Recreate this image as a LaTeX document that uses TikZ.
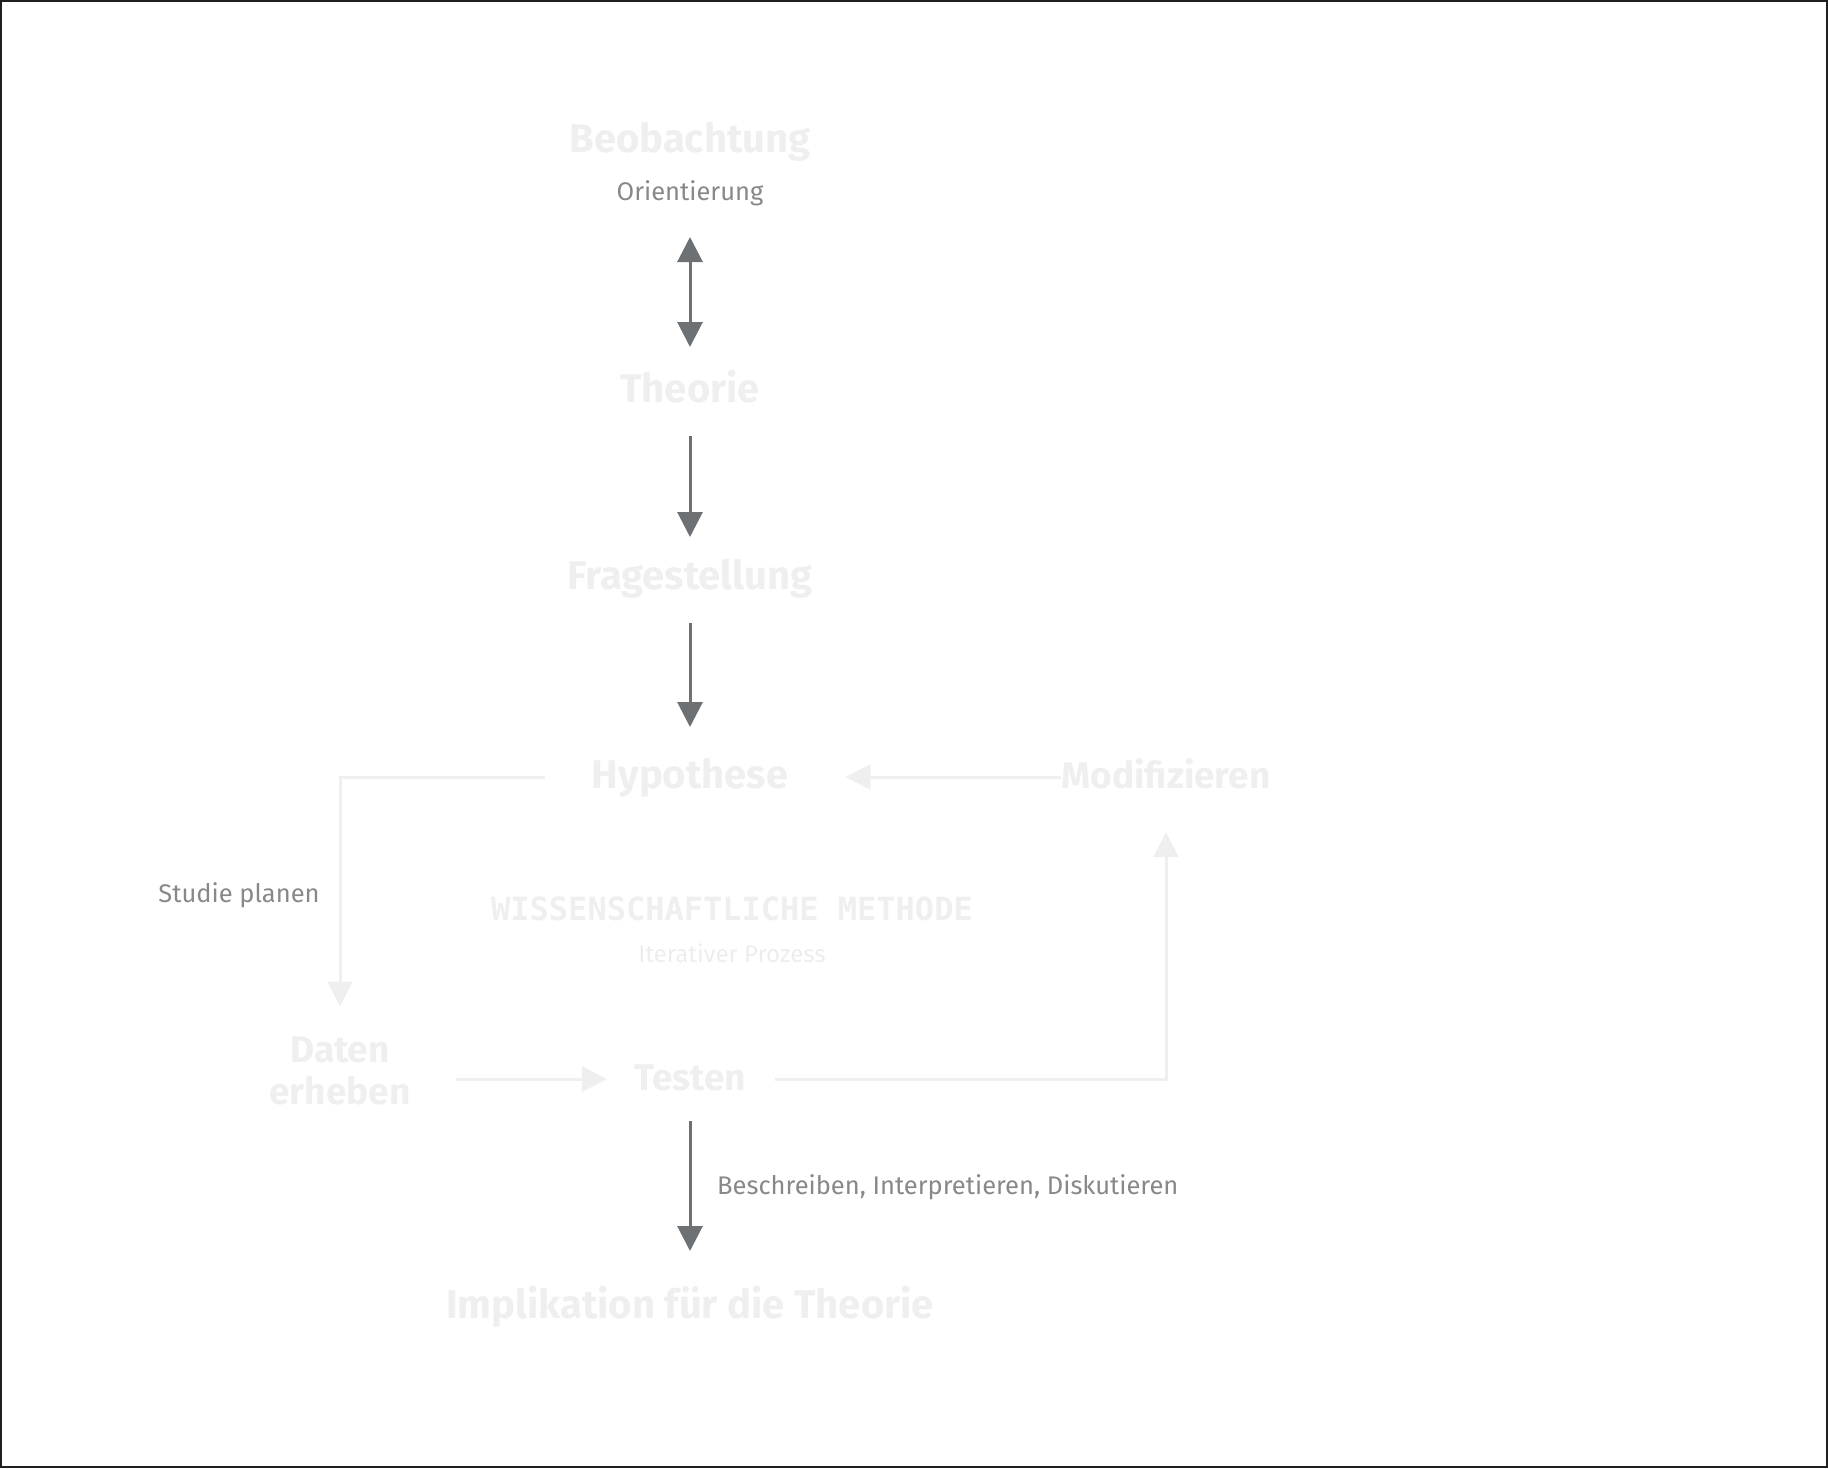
\documentclass[tikz,border=0pt]{standalone}
\usepackage{fontspec}
\setmainfont{Fira Sans}
\newfontfamily\monofont{DejaVu Sans Mono}
\usetikzlibrary{arrows.meta}
\definecolor{lightc}{HTML}{EFEFEF}
\definecolor{faintc}{HTML}{EDEDED}
\definecolor{labgray}{HTML}{888888}
\definecolor{darkarr}{HTML}{6E7174}
\definecolor{framec}{HTML}{1F1F1F}
\tikzset{
  big/.style={inner sep=0pt, font=\bfseries\fontsize{40}{41}\selectfont, text=lightc, text height=29pt, text depth=7pt},
  mid/.style={inner sep=0pt, font=\bfseries\fontsize{37}{42}\selectfont, text=lightc, text height=29pt, text depth=7pt},
  midml/.style={inner sep=0pt, font=\bfseries\fontsize{37}{42}\selectfont, text=lightc, align=center},
  small/.style={inner sep=0pt, font=\fontsize{25.5}{30}\selectfont, text=labgray},
  faint/.style={inner sep=0pt, font=\fontsize{24}{29}\selectfont, text=faintc},
  monotitle/.style={inner sep=0pt, font=\monofont\bfseries\fontsize{32}{36}\selectfont, text=lightc},
  darrow/.style={draw=darkarr, line width=3pt, -{Triangle[width=25pt,length=25pt]}},
  ddouble/.style={draw=darkarr, line width=3pt, {Triangle[width=25pt,length=25pt]}-{Triangle[width=25pt,length=25pt]}},
  larrow/.style={draw=lightc, line width=3pt, -{Triangle[width=25pt,length=25pt]}},
}
\begin{document}
\begin{tikzpicture}[x=1pt,y=-1pt]
\useasboundingbox (0,0) rectangle (1828,1468);
\draw[framec, line width=2pt] (1,1) rectangle (1827,1467);

\node[big, anchor=base] (beob) at (690,152) {Beobachtung};
\node[small, anchor=base] (orient) at (690,200) {Orientierung};
\node[big, anchor=base] (theo) at (690,402) {Theorie};
\node[big, anchor=base] (frag) at (690,589) {Fragestellung};
\node[big, anchor=base] (hyp) at (690,788) {Hypothese};
\node[mid, anchor=base] (mod) at (1166,788) {Modifizieren};
\node[small, anchor=base] (studie) at (239,902) {Studie planen};
\node[monotitle, anchor=base] (title) at (732,920) {WISSENSCHAFTLICHE METHODE};
\node[faint, anchor=base] (iter) at (732,962) {Iterativer Prozess};
\node[midml, anchor=north] (daten) at (340,1036.5) {Daten\\erheben};
\node[mid, anchor=base] (test) at (690,1090) {Testen};
\node[small, anchor=base west] (besch) at (717,1194) {Beschreiben, Interpretieren, Diskutieren};
\node[big, anchor=base] (impl) at (690,1318) {Implikation für die Theorie};

\draw[ddouble, shorten <=85pt, shorten >=55pt] (beob.base) -- (theo.base);
\draw[darrow, shorten <=34pt, shorten >=52pt] (theo.base) -- (frag.base);
\draw[darrow, shorten <=34pt, shorten >=61pt] (frag.base) -- (hyp.base);
\draw[larrow, shorten >=57pt] (mod.west) -- (hyp.east);
\draw[larrow, shorten <=47pt, shorten >=30pt] (hyp.west) -| (daten.north);
\draw[larrow, shorten <=45pt, shorten >=27pt] (daten.east |- test.west) -- (test.west);
\draw[larrow, shorten <=29pt, shorten >=37pt] (test.east) -| (mod.south);
\draw[darrow, shorten <=31pt, shorten >=67pt] (test.base) -- (impl.base);
\end{tikzpicture}
\end{document}
